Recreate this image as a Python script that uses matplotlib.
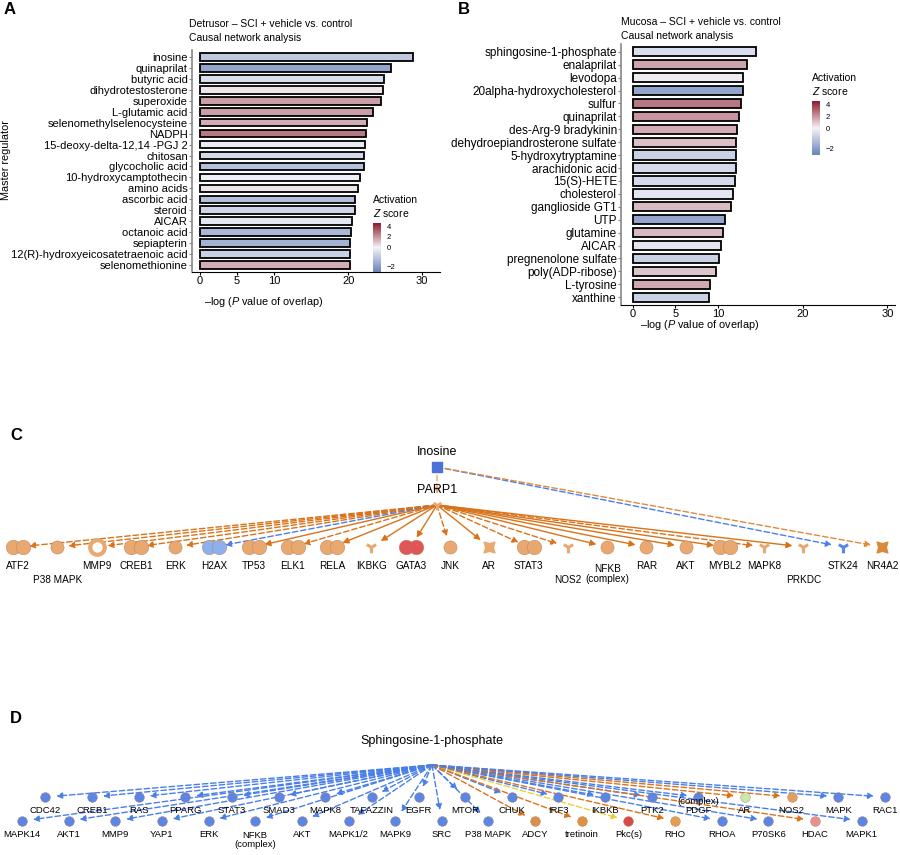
import numpy as np
import matplotlib
matplotlib.use("Agg")
import matplotlib.pyplot as plt
from matplotlib.colors import LinearSegmentedColormap, TwoSlopeNorm

plt.rcParams['font.family'] = ['Liberation Sans', 'DejaVu Sans']
plt.rcParams['mathtext.fontset'] = 'custom'
plt.rcParams['mathtext.it'] = 'Liberation Sans:italic'
plt.rcParams['mathtext.rm'] = 'Liberation Sans'

# ---------------- data ----------------
a_names = ["inosine", "quinaprilat", "butyric acid", "dihydrotestosterone", "superoxide",
           "L-glutamic acid", "selenomethylselenocysteine", "NADPH", "15-deoxy-delta-12,14 -PGJ 2",
           "chitosan", "glycocholic acid", "10-hydroxycamptothecin", "amino acids", "ascorbic acid",
           "steroid", "AICAR", "octanoic acid", "sepiapterin", "12(R)-hydroxyeicosatetraenoic acid",
           "selenomethionine"]
a_vals = [28.8, 25.8, 24.9, 24.7, 24.4, 23.4, 22.6, 22.4, 22.3, 22.2, 22.1, 21.6, 21.3, 20.9,
          20.9, 20.5, 20.4, 20.3, 20.2, 20.2]
a_z = [-1.0, -1.8, -0.5, 0.3, 1.8, 1.8, 1.5, 2.6, -0.2, -0.6, -1.2, -0.1, 0.3, -1.2, -0.7,
       -0.3, -1.4, -1.5, -0.8, 1.5]

b_names = ["sphingosine-1-phosphate", "enalaprilat", "levodopa", "20alpha-hydroxycholesterol",
           "sulfur", "quinaprilat", "des-Arg-9 bradykinin", "dehydroepiandrosterone sulfate",
           "5-hydroxytryptamine", "arachidonic acid", "15(S)-HETE", "cholesterol", "ganglioside GT1",
           "UTP", "glutamine", "AICAR", "pregnenolone sulfate", "poly(ADP-ribose)", "L-tyrosine",
           "xanthine"]
b_vals = [14.5, 13.4, 13.0, 13.0, 12.7, 12.5, 12.3, 12.2, 12.2, 12.1, 12.0, 11.8, 11.5, 10.8,
          10.6, 10.4, 10.1, 9.8, 9.1, 9.0]
b_z = [-0.5, 1.7, 0.2, -1.8, 2.6, 2.0, 1.5, 1.1, -0.8, -0.6, -0.6, -0.3, 1.2, -1.8, 1.2, -0.3,
       -0.8, 1.0, 1.6, -0.8]

x_ticks = [0, 5, 10, 20, 30]
cbar_ticks = [-2, 0, 2, 4]

# panel C network
c_nodes = ["ATF2", "P38 MAPK", "MMP9", "CREB1", "ERK", "H2AX", "TP53", "ELK1", "RELA", "IKBKG",
           "GATA3", "JNK", "AR", "STAT3", "NOS2", "NFKB\n(complex)", "RAR", "AKT", "MYBL2", "MAPK8",
           "PRKDC", "STK24", "NR4A2"]
c_low = [0, 1, 0, 0, 0, 0, 0, 0, 0, 0, 0, 0, 0, 0, 1, 1, 0, 0, 0, 0, 1, 0, 0]
c_shape = ["d", "c", "r", "d", "c", "d", "d", "d", "d", "y", "d", "c", "w", "d", "y", "c", "c",
           "c", "d", "y", "y", "y", "w"]
c_color = ["#e8a870"] * 23
c_color[5] = "#8fb0ee"; c_color[10] = "#e05555"; c_color[21] = "#5b86e5"; c_color[22] = "#d98a3a"
c_edge_col = ["#d9731a"] * 23
c_edge_col[5] = "#4a7fe8"
c_dashed = [1, 1, 1, 1, 1, 1, 0, 1, 0, 0, 0, 1, 0, 1, 1, 0, 0, 0, 0, 1, 0, 1, 1]
c_from_inosine = [21, 22]

# panel D network
d_nodes = ["MAPK14", "CDC42", "AKT1", "CREB1", "MMP9", "RAS", "YAP1", "PPARG", "ERK", "STAT3",
           "NFKB\n(complex)", "SMAD3", "AKT", "MAPK8", "MAPK1/2", "TAFAZZIN", "MAPK9", "EGFR", "SRC",
           "MTOR", "P38 MAPK", "CHUK", "ADCY", "IRF3", "tretinoin", "IKBKB", "Pkc(s)", "PTK2", "RHO",
           "(complex)\nPDGF", "RHOA", "AR", "P70SK6", "NOS2", "HDAC", "MAPK", "MAPK1", "RAC1"]
d_low = [1, 0, 1, 0, 1, 0, 1, 0, 1, 0, 1, 0, 1, 0, 1, 0, 1, 0, 1, 0, 1, 0, 1, 0, 1, 0, 1, 0, 1,
         0, 1, 0, 1, 0, 1, 0, 1, 0]
d_color = ["#5b86e5"] * 38
for i, c in {22: "#d9904a", 24: "#e09040", 26: "#d84a4a", 28: "#e0a050", 31: "#c8e8b0",
             33: "#e0a060", 34: "#e89090"}.items():
    d_color[i] = c
d_edge = ["#4a7fe8"] * 38
for i, c in {22: "#d9731a", 24: "#d9731a", 26: "#e8d040", 28: "#d9731a", 31: "#d9731a",
             33: "#d9731a", 34: "#d9731a"}.items():
    d_edge[i] = c

# ---------------- figure ----------------
fig = plt.figure(figsize=(9, 8.55), dpi=100)
W, H = 900, 855
cmap = LinearSegmentedColormap.from_list("z", ["#6a82b8", "#f4f4f8", "#8b1a2b"])
norm = TwoSlopeNorm(vmin=-2.6, vcenter=0, vmax=4.6)


def fr(l, t, r, b):
    return [l / W, 1 - b / H, (r - l) / W, (b - t) / H]


def bar_panel(rect, names, vals, zs, xlim, fs):
    ax = fig.add_axes(rect)
    y = np.arange(len(names))
    ax.barh(y, vals, height=0.72, color=cmap(norm(np.array(zs))), edgecolor="black", linewidth=1.3)
    ax.set_yticks(y)
    ax.set_yticklabels(names, fontsize=fs)
    ax.set_ylim(len(names) - 0.4, -0.6)
    ax.set_xlim(*xlim)
    ax.set_xticks(x_ticks)
    ax.tick_params(axis="x", labelsize=8, length=2, pad=1)
    ax.tick_params(axis="y", length=2, pad=1, color="#888888")
    for s in ["top", "right"]:
        ax.spines[s].set_visible(False)
    ax.spines["left"].set_color("#888888")
    ax.spines["left"].set_linewidth(1.2)
    return ax


axA = bar_panel(fr(192, 50, 440, 272), a_names, a_vals, a_z, (-1.08, 32.4), 8.0)
axB = bar_panel(fr(621, 44, 895, 305), b_names, b_vals, b_z, (-1.42, 30.9), 8.5)
fig.text(6 / W, 1 - 160 / H, "Master regulator", fontsize=7.8, rotation=90, ha="center", va="center")

fig.text(189 / W, 1 - 24 / H, "Detrusor – SCI + vehicle vs. control", fontsize=7.5, va="center")
fig.text(189 / W, 1 - 38 / H, "Causal network analysis", fontsize=7.5, va="center")
fig.text(621 / W, 1 - 22 / H, "Mucosa – SCI + vehicle vs. control", fontsize=7.5, va="center")
fig.text(621 / W, 1 - 36 / H, "Causal network analysis", fontsize=7.5, va="center")
fig.text(264 / W, 1 - 302 / H, r"–log ($\it{P}$ value of overlap)", fontsize=7.8, ha="center", va="center")
fig.text(700 / W, 1 - 325 / H, r"–log ($\it{P}$ value of overlap)", fontsize=7.8, ha="center", va="center")

for (l, t, r, b), tx, ty in [((373, 223, 381, 272), 373, 200), ((812, 101, 820, 155), 812, 78)]:
    cax = fig.add_axes(fr(l, t, r, b))
    sm = plt.cm.ScalarMappable(norm=norm, cmap=cmap)
    cb = fig.colorbar(sm, cax=cax, ticks=cbar_ticks)
    cb.outline.set_visible(False)
    cb.ax.tick_params(labelsize=5.5, length=2, color="white", pad=2)
    fig.text(tx / W, 1 - ty / H, "Activation", fontsize=7.5, va="center")
    fig.text(tx / W, 1 - (ty + 13) / H, r"$\it{Z}$ score", fontsize=7.5, va="center")

# network overlay axes in pixel coords
net = fig.add_axes([0, 0, 1, 1], zorder=-1)
net.set_xlim(0, W)
net.set_ylim(H, 0)
net.axis("off")

for lab, (x, y) in zip("ABCD", [(4, 10), (458, 10), (10, 435), (10, 718)]):
    net.text(x, y, lab, fontsize=12, fontweight="bold", va="center")


def draw_node(x, y, shape, color, s=1.0):
    if shape == "d":
        net.scatter([x - 5 * s, x + 5 * s], [y, y], s=110 * s, color=color, edgecolor="#b08060",
                    linewidth=0.3, zorder=3)
    elif shape == "y":
        net.scatter([x], [y], s=70 * s, marker="1", color=color, linewidth=2.2, zorder=3)
    elif shape == "r":
        net.scatter([x], [y], s=110 * s, marker="o", facecolor="white", edgecolor=color, linewidth=3, zorder=3)
    elif shape == "w":
        net.scatter([x], [y], s=120 * s, marker=(4, 1, 45), color=color, zorder=3)
    else:
        net.scatter([x], [y], s=90 * s, color=color, edgecolor="#b08060", linewidth=0.3, zorder=3)


def edge(x0, y0, x1, y1, col, dashed):
    net.annotate("", xy=(x1, y1), xytext=(x0, y0),
                 arrowprops=dict(arrowstyle="-|>,head_length=0.35,head_width=0.18", color=col, lw=1.0,
                                 linestyle=(0, (4, 2)) if dashed else "-", shrinkA=0, shrinkB=8),
                 zorder=2)


# Panel C
inx, iny = 437, 467
px, py = 437, 505
net.text(inx, 452, "Inosine", fontsize=9, ha="center", va="center")
net.scatter([inx], [iny], s=45, marker="s", color="#4a72d8", zorder=4)
net.text(px, 490, "PARP1", fontsize=9, ha="center", va="center")
net.scatter([px], [py], s=50, marker="1", color="#e8a870", linewidth=2, zorder=4)
edge(inx, iny, px, py, "#e8a870", True)
cx = np.linspace(18, 882, len(c_nodes))
for i, name in enumerate(c_nodes):
    x, y = cx[i], 547
    draw_node(x, y, c_shape[i], c_color[i])
    if i in c_from_inosine:
        edge(inx, iny, x, y, "#4a7fe8" if i == 21 else "#e08a3a", True)
    else:
        edge(px, py, x, y, c_edge_col[i], c_dashed[i])
    ly = 580 if c_low[i] else 566
    if c_low[i] and "\n" in name:
        ly = 574
    net.text(x, ly, name, fontsize=7.2, ha="center", va="center", linespacing=1.1)

# Panel D
hx, hy = 432, 765
net.text(hx, 741, "Sphingosine-1-phosphate", fontsize=9, ha="center", va="center")
dx = np.linspace(22, 885, len(d_nodes))
for i, name in enumerate(d_nodes):
    x = dx[i]
    y = 821 if d_low[i] else 797
    draw_node(x, y, "c", d_color[i], s=0.55)
    edge(hx, hy, x, y, d_edge[i], True)
    ly = 834 if d_low[i] else 810
    if "\n" in name:
        ly += 6 if d_low[i] else -4
    net.text(x, ly, name, fontsize=6.8, ha="center", va="center", linespacing=1.1)

fig.savefig("out.png", dpi=100)
